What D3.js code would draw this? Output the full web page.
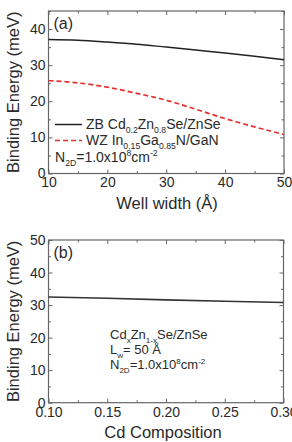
<!DOCTYPE html>
<html>
<head>
<meta charset="utf-8">
<script src="https://cdn.jsdelivr.net/npm/d3@7"></script>
<style>
  body { margin: 0; background: #fff; }
  text { font-family: Arial, "Liberation Sans", sans-serif; fill: #2a2a2a; }
</style>
</head>
<body>
<div id="canvas"></div>
<script>
// panel (a): binding energy vs well width
const wellWidth = [10, 15, 20, 25, 30, 35, 40, 45, 50];
const zbCdZnSe = [37.1, 36.9, 36.4, 35.8, 35.0, 34.2, 33.4, 32.5, 31.5];
const wzInGaN = [25.7, 25.1, 23.9, 22.2, 20.3, 17.8, 15.2, 12.9, 10.8];
const xTicksA = [10, 20, 30, 40, 50];
const yTicksA = [0, 10, 20, 30, 40];

// panel (b): binding energy vs Cd composition (Lw = 50 A)
const cdComp = [0.10, 0.15, 0.20, 0.25, 0.30];
const cdZnSeLw50 = [32.5, 32.1, 31.6, 31.2, 30.8];
const xTicksB = [0.10, 0.15, 0.20, 0.25, 0.30];
const yTicksB = [0, 10, 20, 30, 40, 50];

const svg = d3.select("#canvas").append("svg")
    .attr("width", 292)
    .attr("height", 442);

// write text with sub/superscripts: parts = [[str, kind]]
function richText(g, x, y, parts, size) {
  const t = g.append("text").attr("x", x).attr("y", y).style("font-size", size + "px");
  let shift = 0;
  parts.forEach(p => {
    const kind = p[1] || "n";
    let target = 0;
    if (kind == "sub") target = size * 0.3;
    if (kind == "sup") target = -size * 0.4;
    t.append("tspan")
      .attr("dy", target - shift)
      .style("font-size", (kind == "n" ? size : size * 0.62) + "px")
      .text(p[0]);
    shift = target;
  });
  return t;
}

function panel(opt) {
  const g = svg.append("g");
  const x = d3.scaleLinear().domain(opt.xDomain).range([opt.left, opt.right]);
  const y = d3.scaleLinear().domain(opt.yDomain).range([opt.bottom, opt.top]);

  // minor ticks
  g.append("g").attr("transform", `translate(0,${opt.bottom})`)
    .call(d3.axisBottom(x).tickValues(opt.xMinor).tickSize(-2.5).tickFormat(""));
  g.append("g").attr("transform", `translate(0,${opt.top})`)
    .call(d3.axisTop(x).tickValues(opt.xMinor).tickSize(-2.5).tickFormat(""));
  g.append("g").attr("transform", `translate(${opt.left},0)`)
    .call(d3.axisLeft(y).tickValues(opt.yMinor).tickSize(-2.5).tickFormat(""));
  g.append("g").attr("transform", `translate(${opt.right},0)`)
    .call(d3.axisRight(y).tickValues(opt.yMinor).tickSize(-2.5).tickFormat(""));

  // major ticks
  g.append("g").attr("transform", `translate(0,${opt.bottom})`)
    .call(d3.axisBottom(x).tickValues(opt.xTicks).tickSize(-4).tickPadding(opt.xPad).tickFormat(opt.xFmt));
  g.append("g").attr("transform", `translate(0,${opt.top})`)
    .call(d3.axisTop(x).tickValues(opt.xTicks).tickSize(-4).tickFormat(""));
  g.append("g").attr("transform", `translate(${opt.left},0)`)
    .call(d3.axisLeft(y).tickValues(opt.yTicks).tickSize(-4).tickPadding(3).tickFormat(d3.format("d")));
  g.append("g").attr("transform", `translate(${opt.right},0)`)
    .call(d3.axisRight(y).tickValues(opt.yTicks).tickSize(-4).tickFormat(""));

  g.selectAll(".domain").remove();
  g.selectAll(".tick line").attr("stroke", "#666");
  g.selectAll(".tick text").style("font-size", "14px").attr("fill", "#2a2a2a");

  g.append("rect")
    .attr("x", opt.left).attr("y", opt.top)
    .attr("width", opt.right - opt.left).attr("height", opt.bottom - opt.top)
    .attr("fill", "none").attr("stroke", "#666").attr("stroke-width", 1.2);

  // axis titles
  g.append("text")
    .attr("transform", `translate(19,${(opt.top + opt.bottom) / 2}) rotate(-90)`)
    .attr("text-anchor", "middle")
    .style("font-size", "16.5px")
    .text("Binding Energy (meV)");
  g.append("text")
    .attr("x", opt.xTitleX).attr("y", opt.xTitleY)
    .attr("text-anchor", "middle")
    .style("font-size", "16.5px")
    .text(opt.xTitle);

  g.append("text")
    .attr("x", opt.left + 5).attr("y", opt.top + 18)
    .style("font-size", "16px")
    .text(opt.tag);

  return {g, x, y};
}

// ---- panel (a)
const A = panel({
  left: 48.5, right: 284, top: 11, bottom: 173.5,
  xDomain: [10, 50], yDomain: [0, 45],
  xTicks: xTicksA, yTicks: yTicksA,
  xMinor: [15, 25, 35, 45], yMinor: [5, 15, 25, 35, 45],
  xFmt: d3.format("d"), xPad: 3.5,
  xTitle: "Well width (Å)", xTitleX: 167, xTitleY: 209,
  tag: "(a)"
});

const lineA1 = d3.line().x((d, i) => A.x(wellWidth[i])).y(d => A.y(d)).curve(d3.curveMonotoneX);
A.g.append("path").datum(zbCdZnSe)
  .attr("d", lineA1).attr("fill", "none")
  .attr("stroke", "#222").attr("stroke-width", 1.5);
A.g.append("path").datum(wzInGaN)
  .attr("d", lineA1).attr("fill", "none")
  .attr("stroke", "#e8302f").attr("stroke-width", 1.7)
  .attr("stroke-dasharray", "5,3");

// legend
A.g.append("line").attr("x1", 55).attr("x2", 82).attr("y1", 124.5).attr("y2", 124.5)
  .attr("stroke", "#222").attr("stroke-width", 1.5);
richText(A.g, 86, 129, [["ZB Cd"], ["0.2", "sub"], ["Zn"], ["0.8", "sub"], ["Se/ZnSe"]], 14);
A.g.append("line").attr("x1", 55).attr("x2", 82).attr("y1", 140.5).attr("y2", 140.5)
  .attr("stroke", "#e8302f").attr("stroke-width", 1.7).attr("stroke-dasharray", "5,3");
richText(A.g, 86, 145, [["WZ In"], ["0.15", "sub"], ["Ga"], ["0.85", "sub"], ["N/GaN"]], 14);
richText(A.g, 55, 162, [["N"], ["2D", "sub"], ["=1.0x10"], ["8", "sup"], ["cm"], ["-2", "sup"]], 14);

// ---- panel (b)
const B = panel({
  left: 48.5, right: 283.5, top: 240, bottom: 402.7,
  xDomain: [0.10, 0.30], yDomain: [0, 50],
  xTicks: xTicksB, yTicks: yTicksB,
  xMinor: [0.125, 0.175, 0.225, 0.275], yMinor: [5, 15, 25, 35, 45],
  xFmt: d3.format(".2f"), xPad: 4,
  xTitle: "Cd Composition", xTitleX: 163, xTitleY: 438,
  tag: "(b)"
});

const lineB = d3.line().x((d, i) => B.x(cdComp[i])).y(d => B.y(d));
B.g.append("path").datum(cdZnSeLw50)
  .attr("d", lineB).attr("fill", "none")
  .attr("stroke", "#333").attr("stroke-width", 1.6);

richText(B.g, 110, 339, [["Cd"], ["x", "sub"], ["Zn"], ["1-x", "sub"], ["Se/ZnSe"]], 13);
richText(B.g, 110, 354, [["L"], ["w", "sub"], ["= 50 Å"]], 13);
richText(B.g, 110, 369, [["N"], ["2D", "sub"], ["=1.0x10"], ["8", "sup"], ["cm"], ["-2", "sup"]], 13);
</script>
</body>
</html>
